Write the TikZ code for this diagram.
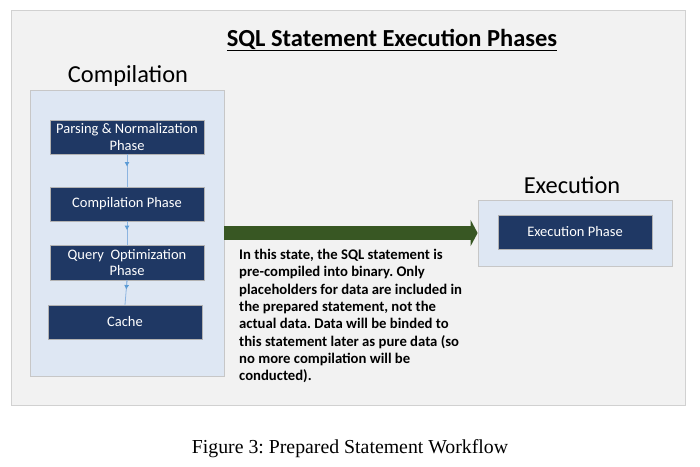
\documentclass[tikz,border=0pt]{standalone}
\usepackage{fontspec}
\setmainfont{Carlito}
\newfontfamily\capfont{Liberation Serif}
\usepackage{tikz}
\usetikzlibrary{arrows.meta,calc,positioning,shapes}
\definecolor{sheetgray}{HTML}{F2F2F2}
\definecolor{panelblue}{HTML}{DEE7F3}
\definecolor{phaseblue}{HTML}{1F3864}
\definecolor{flowblue}{HTML}{8CB4E0}
\definecolor{tipblue}{HTML}{5B9BD5}
\definecolor{arrowgreen}{HTML}{385723}
\frenchspacing
\tikzset{%
	outerframe/.style = {draw=black!18, fill=sheetgray, line width=0.8pt},
	panel/.style      = {draw=black!22, fill=panelblue, line width=0.8pt},
	phase/.style      = {draw=black!30, fill=phaseblue, text=white, minimum width=154pt, minimum height=34pt, inner sep=1pt, align=center, font=\fontsize{14.5}{16.8}\selectfont},
	heading/.style    = {font=\fontsize{24.4}{28}\selectfont},
	flowline/.style   = {draw=flowblue, line width=0.8pt},
	flowtip/.style    = {draw=flowblue, line width=0.8pt, -{Latex[length=4.5pt,width=5pt,color=tipblue]}},
	bigarrow/.style   = {draw=arrowgreen, line width=14pt, -{Triangle[length=7pt,width=26pt]}},
	note/.style       = {align=left, inner sep=0pt, font=\fontsize{14.7}{17.3}\selectfont\bfseries},
}

\begin{document}
\begin{tikzpicture}[x=1pt,y=-1pt]
	\useasboundingbox (0,0) rectangle (700,466);
	\node[outerframe, minimum width=674pt, minimum height=395pt] (sheet) at (348,207.5) {};
	\node[font=\fontsize{24.5}{28}\selectfont\bfseries] (title) at (392,40) {\underline{SQL Statement Execution Phases}};
	% compilation side
	\node[panel, minimum width=194pt, minimum height=286pt] (cpanel) at (127,233) {};
	\node[heading] (clabel) at (128,76) {Compilation};
	\node[phase] (parse) at (127,137) {Parsing \& Normalization\\Phase};
	\node[phase] (comp) at (127,204) {Compilation Phase};
	\node[phase, minimum height=35pt] (qopt) at (127,262.5) {Query\ \ Optimization\\Phase};
	\node[phase] (cache) at (125,322) {Cache};
	\foreach \a/\b in {parse/comp, comp/qopt, qopt/cache} {
		\draw[flowline] (\a.south) -- (\b.north);
		\draw[flowtip] (\a.south) -- ($(\a.south)!0.38!(\b.north)$);
	}
	% execution side
	\node[panel, minimum width=194pt, minimum height=66pt] (epanel) at (575,233) {};
	\node[heading] (elabel) at (572,185) {Execution};
	\node[phase] (exec) at (575,232) {Execution Phase};
	\draw[bigarrow] (cpanel.east) -- (epanel.west);
	\node[note, anchor=north west] (note) at (239,249) {In this state, the SQL statement is\\pre-compiled into binary. Only\\placeholders for data are included in\\the prepared statement, not the\\actual data. Data will be binded to\\this statement later as pure data (so\\no more compilation will be\\conducted).};
	\node[font=\capfont\fontsize{19.8}{23}\selectfont] (caption) at (350,449) {Figure 3: Prepared Statement Workflow};
\end{tikzpicture}
\end{document}
